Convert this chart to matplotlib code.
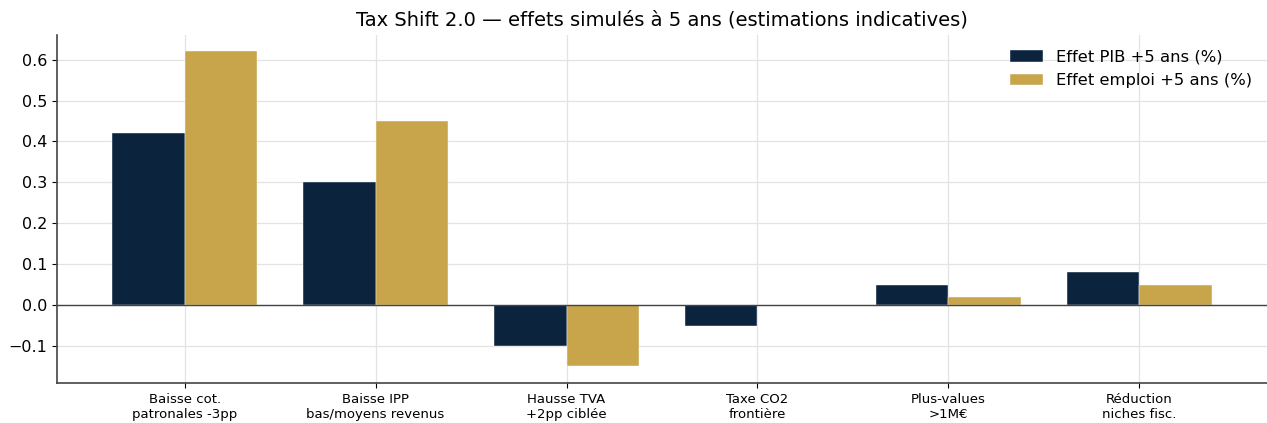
import matplotlib
matplotlib.use("Agg")
import matplotlib.pyplot as plt
import numpy as np

categories = ["Baisse cot.\npatronales -3pp", "Baisse IPP\nbas/moyens revenus", "Hausse TVA\n+2pp ciblée",
              "Taxe CO2\nfrontière", "Plus-values\n>1M€", "Réduction\nniches fisc."]
effet_pib = [0.42, 0.30, -0.10, -0.05, 0.05, 0.08]
effet_emploi = [0.62, 0.45, -0.15, 0.0, 0.02, 0.05]
series_labels = ["Effet PIB +5 ans (%)", "Effet emploi +5 ans (%)"]
title = "Tax Shift 2.0 — effets simulés à 5 ans (estimations indicatives)"

navy = "#0B233D"
gold = "#C8A54B"

fig = plt.figure(figsize=(12.67, 4.23), dpi=100)
ax = fig.add_axes([0.045, 0.095, 0.955, 0.822])

x = np.arange(len(categories))
w = 0.38
ax.bar(x - w/2, effet_pib, w, color=navy, label=series_labels[0], edgecolor="white", linewidth=0.3, zorder=3)
ax.bar(x + w/2, effet_emploi, w, color=gold, label=series_labels[1], edgecolor="white", linewidth=0.3, zorder=3)
ax.axhline(0, color="#444444", linewidth=1, zorder=4)

ax.set_xticks(x)
ax.set_xticklabels(categories, fontsize=9.5)
ax.tick_params(axis="y", labelsize=11.5)
ax.set_ylim(-0.19, 0.66)
ax.grid(True, color="#e3e3e3", linewidth=0.9, zorder=0)
ax.set_axisbelow(True)
for s in ["top", "right"]:
    ax.spines[s].set_visible(False)
for s in ["left", "bottom"]:
    ax.spines[s].set_color("#444444")
    ax.spines[s].set_linewidth(1.2)

ax.set_title(title, fontsize=14, pad=7)
ax.legend(frameon=False, fontsize=11.8, loc="upper right")

fig.savefig("out.png", dpi=100)
